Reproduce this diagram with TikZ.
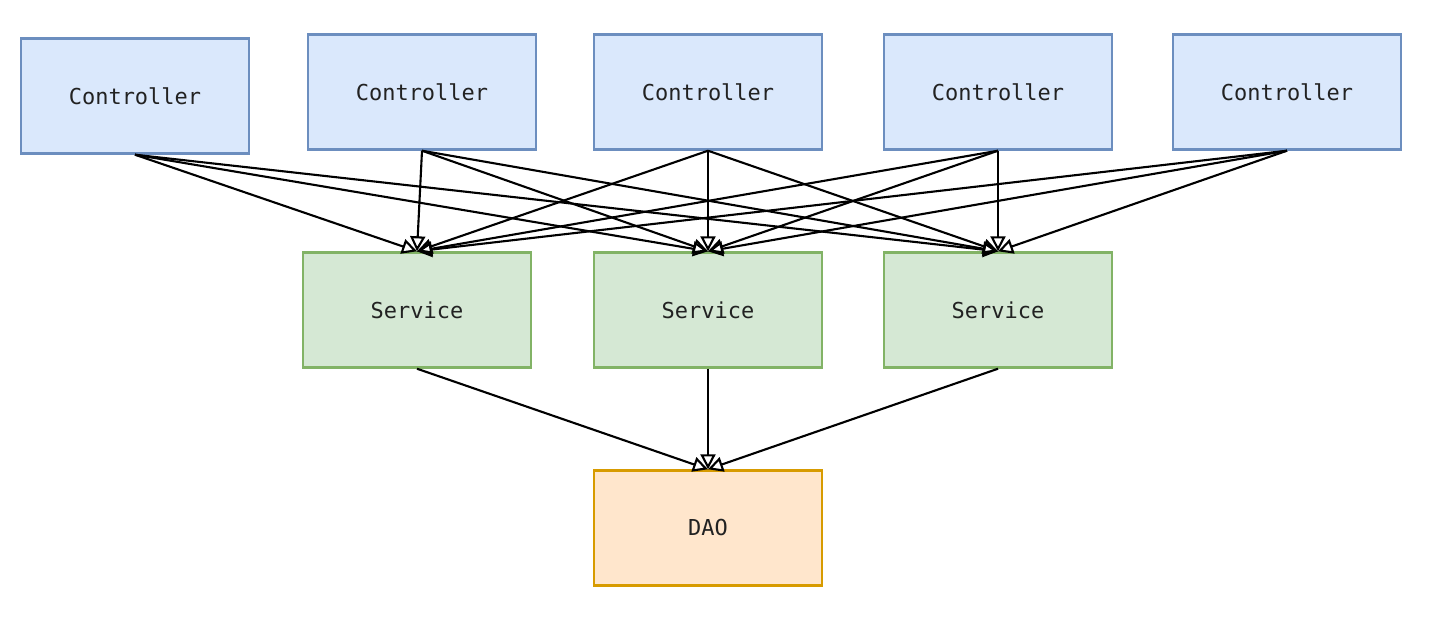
\documentclass[tikz,border=0pt]{standalone}
\usepackage{fontspec}
\setmonofont{DejaVu Sans Mono}
\usetikzlibrary{arrows.meta}
\definecolor{ctlfill}{HTML}{DAE8FC}
\definecolor{ctldraw}{HTML}{6C8EBF}
\definecolor{svcfill}{HTML}{D5E8D4}
\definecolor{svcdraw}{HTML}{82B366}
\definecolor{daofill}{HTML}{FFE6CC}
\definecolor{daodraw}{HTML}{D79B00}
\definecolor{txtgray}{HTML}{222222}

\begin{document}
\begin{tikzpicture}[x=0.02cm,y=-0.02cm,
  box/.style={minimum width=4.56cm, minimum height=2.3cm, line width=1.4pt,
              font=\ttfamily\fontsize{12.5}{15}\selectfont, text=txtgray},
  ctl/.style={box, draw=ctldraw, fill=ctlfill},
  svc/.style={box, draw=svcdraw, fill=svcfill},
  dao/.style={box, draw=daodraw, fill=daofill},
  link/.style={line width=1.2pt, -{Triangle[open, length=0.3cm, width=0.3cm]}}]
  \useasboundingbox (0,0) rectangle (1440,621);
  % Controllers
  \node[ctl] (c1) at (135,96) {Controller};
  \node[ctl] (c2) at (422,92) {Controller};
  \node[ctl] (c3) at (708,92) {Controller};
  \node[ctl] (c4) at (998,92) {Controller};
  \node[ctl] (c5) at (1287,92) {Controller};
  % Services
  \node[svc] (s1) at (417,310) {Service};
  \node[svc] (s2) at (708,310) {Service};
  \node[svc] (s3) at (998,310) {Service};
  % DAO
  \node[dao] (dao) at (708,528) {DAO};
  % Controller -> Service
  \draw[link] (c1.south) -- (s1.north);
  \draw[link] (c1.south) -- (s2.north);
  \draw[link] (c1.south) -- (s3.north);
  \draw[link] (c2.south) -- (s1.north);
  \draw[link] (c2.south) -- (s2.north);
  \draw[link] (c2.south) -- (s3.north);
  \draw[link] (c3.south) -- (s1.north);
  \draw[link] (c3.south) -- (s2.north);
  \draw[link] (c3.south) -- (s3.north);
  \draw[link] (c4.south) -- (s1.north);
  \draw[link] (c4.south) -- (s2.north);
  \draw[link] (c4.south) -- (s3.north);
  \draw[link] (c5.south) -- (s1.north);
  \draw[link] (c5.south) -- (s2.north);
  \draw[link] (c5.south) -- (s3.north);
  % Service -> DAO
  \draw[link] (s1.south) -- (dao.north);
  \draw[link] (s2.south) -- (dao.north);
  \draw[link] (s3.south) -- (dao.north);
\end{tikzpicture}
\end{document}
